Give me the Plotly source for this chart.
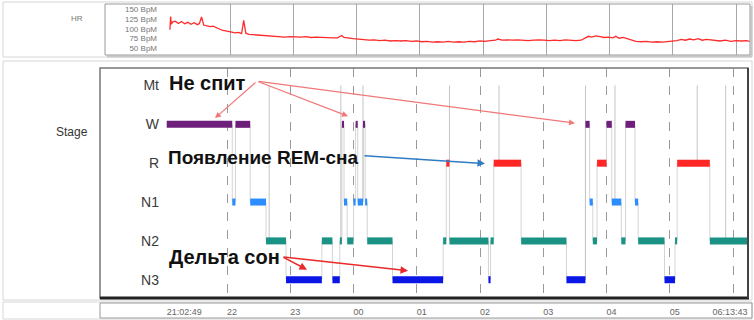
import plotly.graph_objects as go
from datetime import datetime

W_PX, H_PX = 754, 320

# ---------------- data ----------------
stage_labels = ["N3", "N2", "N1", "R", "W", "Mt"]
stage_level = {"N3": 1, "N2": 2, "N1": 3, "R": 4, "W": 5, "Mt": 6}
stage_colors = {"W": "#6e1f7c", "R": "#ff2626", "N1": "#2b8dff",
                "N2": "#1b9384", "N3": "#0a16e6"}

seg_stage = ["W", "N1", "W", "N1", "N2", "N3", "N2", "N3", "N2", "W",
             "N1", "N2", "N1", "W", "N1", "W", "N1", "N2", "N3", "N2",
             "R", "N2", "N3", "N2", "R", "N2", "N3", "W", "N1", "N2",
             "R", "W", "N1", "N2", "W", "N1", "N2", "N3", "N2", "R", "N2"]
seg_start = ["21:02:49", "22:05", "22:08", "22:22", "22:37", "22:56", "23:30", "23:40", "23:47", "23:49",
             "23:51", "23:54", "00:00", "00:02", "00:04", "00:09", "00:11", "00:13", "00:37", "01:25",
             "01:28", "01:31", "02:08", "02:10", "02:13", "02:39", "03:22", "03:40", "03:44", "03:47",
             "03:51", "04:00", "04:05", "04:14", "04:18", "04:27", "04:30", "04:55", "05:05", "05:07", "05:38"]
seg_end = seg_start[1:] + ["06:13:43"]

movement_times = ["22:40", "23:48", "00:09", "01:31", "02:18", "03:40", "04:08", "05:26", "05:53"]

hour_ticks = ["22:00", "23:00", "00:00", "01:00", "02:00", "03:00", "04:00", "05:00", "06:00"]
axis_tick_times = ["21:02:49", "22:00", "23:00", "00:00", "01:00", "02:00", "03:00", "04:00", "05:00"]
axis_tick_text = ["21:02:49", "22", "23", "00", "01", "02", "03", "04", "05"]
end_tick_time = ["06:13:43"]
end_tick_text = ["06:13:43"]

hr_time = ["21:03", "21:03:40", "21:04:20", "21:05:40", "21:08", "21:11", "21:14", "21:17", "21:20",
           "21:23", "21:26", "21:29", "21:31", "21:33", "21:35", "21:38", "21:41", "21:44", "21:47",
           "21:50", "21:53", "21:56", "21:59", "22:02", "22:05", "22:08", "22:11", "22:13", "22:15",
           "22:18", "22:22", "22:26", "22:30", "22:34", "22:38", "22:42", "22:47", "22:52", "22:57",
           "23:02", "23:07", "23:12", "23:17", "23:22", "23:27", "23:32", "23:37", "23:42", "23:46",
           "23:48", "23:52", "23:57", "00:02", "00:07", "00:12", "00:17", "00:22", "00:27", "00:32",
           "00:37", "00:42", "00:47", "00:52", "00:57", "01:02", "01:07", "01:12", "01:17", "01:22",
           "01:27", "01:32", "01:37", "01:42", "01:47", "01:52", "01:57", "02:02", "02:07", "02:12",
           "02:14", "02:18", "02:23", "02:28", "02:33", "02:38", "02:43", "02:48", "02:53", "02:58",
           "03:03", "03:08", "03:13", "03:18", "03:23", "03:28", "03:33", "03:37", "03:40", "03:43",
           "03:47", "03:51", "03:55", "03:59", "04:03", "04:06", "04:09", "04:13", "04:17", "04:21",
           "04:25", "04:30", "04:35", "04:40", "04:45", "04:50", "04:55", "05:00", "05:04", "05:08",
           "05:12", "05:16", "05:20", "05:24", "05:28", "05:32", "05:36", "05:40", "05:45", "05:50",
           "05:55", "06:00", "06:05", "06:10", "06:13"]
hr_bpm = [98, 132, 112, 118, 120, 114, 119, 113, 117,
          112, 116, 111, 114, 131, 110, 108, 106, 107, 103,
          98, 96, 95, 93, 92, 90, 91, 88, 122, 89,
          86, 85, 84, 83, 82, 81, 80, 80, 79, 80,
          79, 79, 80, 78, 79, 78, 78, 77, 77, 83,
          78, 76, 75, 74, 73, 71, 72, 70, 71, 69,
          70, 69, 70, 68, 69, 67, 68, 66, 67, 66,
          68, 66, 67, 66, 68, 67, 69, 68, 70, 71,
          74, 71, 72, 71, 72, 71, 70, 71, 72, 71,
          70, 71, 70, 72, 71, 70, 71, 78, 81, 79,
          82, 80, 78, 79, 77, 81, 76, 78, 75, 71,
          68, 67, 68, 66, 67, 66, 67, 68, 70, 73,
          71, 74, 72, 75, 71, 73, 72, 70, 69, 71,
          68, 70, 69, 70, 68]
hr_tickvals = [50, 75, 100, 125, 150]
hr_ticktext = ["50 BpM", "75 BpM", "100 BpM", "125 BpM", "150 BpM"]


def T(s):
    p = [int(v) for v in s.split(":")]
    while len(p) < 3:
        p.append(0)
    day = 1 if p[0] >= 12 else 2
    return datetime(2024, 1, day, p[0], p[1], p[2])


def PX(x):
    return x / W_PX


def PY(y):
    return 1 - y / H_PX


def stage_at(t):
    for s, a, b in zip(seg_stage, seg_start, seg_end):
        if T(a) <= t <= T(b):
            return stage_level[s]
    return stage_level["W"]


fig = go.Figure()

# hypnogram transition lines (thin grey)
tx, ty = [], []
for i in range(1, len(seg_stage)):
    t = T(seg_start[i])
    tx += [t, t, None]
    ty += [stage_level[seg_stage[i - 1]], stage_level[seg_stage[i]], None]
fig.add_trace(go.Scatter(x=tx, y=ty, mode="lines", line=dict(color="#d4d4d4", width=1),
                         hoverinfo="skip", showlegend=False))

# movement markers (from Mt row down to current stage)
mx, my = [], []
for m in movement_times:
    t = T(m)
    mx += [t, t, None]
    my += [stage_level["Mt"], stage_at(t), None]
fig.add_trace(go.Scatter(x=mx, y=my, mode="lines", line=dict(color="#c4c4c4", width=1),
                         hoverinfo="skip", showlegend=False))

# stage bars
for st in ["W", "R", "N1", "N2", "N3"]:
    xs, ys = [], []
    for s, a, b in zip(seg_stage, seg_start, seg_end):
        if s == st:
            xs += [T(a), T(b), None]
            ys += [stage_level[s], stage_level[s], None]
    fig.add_trace(go.Scatter(x=xs, y=ys, mode="lines", name=st,
                             line=dict(color=stage_colors[st], width=7),
                             showlegend=False))

# HR trace
fig.add_trace(go.Scatter(x=[T(t) for t in hr_time], y=hr_bpm, mode="lines",
                         line=dict(color="#ff2a2a", width=1.3),
                         xaxis="x2", yaxis="y2", showlegend=False))

# dummy traces for the time-label axes
fig.add_trace(go.Scatter(x=[], y=[], xaxis="x3", yaxis="y3", showlegend=False))
fig.add_trace(go.Scatter(x=[], y=[], xaxis="x4", yaxis="y3", showlegend=False))

main_range = [T("19:59:32"), T("06:14:12")]
hr_range = [T("20:01:25"), T("06:13:17")]
label_font = dict(family="Liberation Sans, Arial, sans-serif", size=14, color="#3a3a3a")
small_font = dict(family="Liberation Sans, Arial, sans-serif", size=9, color="#666666")

fig.update_layout(
    width=W_PX, height=H_PX,
    margin=dict(l=0, r=0, t=0, b=0),
    paper_bgcolor="white", plot_bgcolor="white",
    showlegend=False,
    xaxis=dict(domain=[PX(100), PX(748)], range=main_range, type="date",
               tickvals=[T(h) for h in hour_ticks], showticklabels=False,
               showgrid=True, gridcolor="#9a9a9a", gridwidth=1, griddash="dash",
               zeroline=False, showline=False, ticks=""),
    yaxis=dict(domain=[PY(298), PY(68)], range=[0.53, 6.45],
               tickvals=[1, 2, 3, 4, 5, 6], ticktext=stage_labels,
               anchor="free", position=PX(159), showgrid=False, zeroline=False,
               showline=False, ticks="", tickfont=label_font),
    xaxis2=dict(domain=[PX(105), PX(750)], range=hr_range, type="date", anchor="y2",
                tickvals=[T(h) for h in hour_ticks], showticklabels=False,
                showgrid=True, gridcolor="#a8a8a8", gridwidth=1,
                zeroline=False, showline=False, ticks=""),
    yaxis2=dict(domain=[PY(55), PY(4)], range=[33, 164],
                tickvals=hr_tickvals, ticktext=hr_ticktext,
                anchor="free", position=PX(157), showgrid=False, zeroline=False,
                showline=False, ticks="",
                tickfont=dict(family="Liberation Sans, Arial, sans-serif", size=8, color="#777777")),
    xaxis3=dict(domain=[PX(100), PX(748)], range=main_range, type="date", anchor="y3",
                side="top",
                tickvals=[T(t) for t in axis_tick_times], ticktext=axis_tick_text,
                ticklabelposition="inside right", showgrid=False, zeroline=False,
                showline=False, ticks="", tickfont=small_font),
    xaxis4=dict(domain=[PX(100), PX(748)], range=main_range, type="date", anchor="y3",
                overlaying="x3", side="top",
                tickvals=[T(t) for t in end_tick_time], ticktext=end_tick_text,
                ticklabelposition="inside left", showgrid=False, zeroline=False,
                showline=False, ticks="", tickfont=small_font),
    yaxis3=dict(domain=[PY(318), PY(303)], range=[0, 1], visible=False),
)

shapes = []
# row frames
for (x0, y0, x1, y1) in [(3, 2, 752, 57), (3, 61, 752, 300), (3, 302, 752, 319)]:
    shapes.append(dict(type="rect", xref="paper", yref="paper", x0=PX(x0), x1=PX(x1),
                       y0=PY(y1), y1=PY(y0), line=dict(color="#d6d6d6", width=1)))
# HR box with shadow
shapes.append(dict(type="line", xref="paper", yref="paper", x0=PX(107), x1=PX(752),
                   y0=PY(56.5), y1=PY(56.5), line=dict(color="#c8c8c8", width=2)))
shapes.append(dict(type="line", xref="paper", yref="paper", x0=PX(751.5), x1=PX(751.5),
                   y0=PY(6), y1=PY(56.5), line=dict(color="#c8c8c8", width=2)))
shapes.append(dict(type="rect", xref="paper", yref="paper", x0=PX(105), x1=PX(750),
                   y0=PY(55), y1=PY(4), line=dict(color="#9a9a9a", width=1)))
# main box
shapes.append(dict(type="rect", xref="paper", yref="paper", x0=PX(100), x1=PX(748),
                   y0=PY(298), y1=PY(68), line=dict(color="#777777", width=1.5)))
shapes.append(dict(type="line", xref="paper", yref="paper", x0=PX(100), x1=PX(749),
                   y0=PY(298), y1=PY(298), line=dict(color="#222222", width=3)))
shapes.append(dict(type="line", xref="paper", yref="paper", x0=PX(748), x1=PX(748),
                   y0=PY(298), y1=PY(68), line=dict(color="#444444", width=2)))
# time axis box
shapes.append(dict(type="rect", xref="paper", yref="paper", x0=PX(100), x1=PX(752),
                   y0=PY(318), y1=PY(303), line=dict(color="#9a9a9a", width=1)))
fig.update_layout(shapes=shapes)

txt_font = dict(family="Liberation Sans, Arial, sans-serif", size=20, color="#111111")
ann = [
    dict(text="HR", x=PX(77), y=PY(18), xref="paper", yref="paper", showarrow=False,
         xanchor="center", yanchor="middle",
         font=dict(family="Liberation Sans, Arial, sans-serif", size=8, color="#777777")),
    dict(text="Stage", x=PX(72), y=PY(132), xref="paper", yref="paper", showarrow=False,
         xanchor="center", yanchor="middle",
         font=dict(family="Liberation Sans, Arial, sans-serif", size=12, color="#333333")),
    dict(text="<b>Не спит</b>", x=PX(207), y=PY(83), xref="paper", yref="paper",
         xanchor="center", yanchor="middle", showarrow=False, font=txt_font),
    dict(text="<b>Появление REM-сна</b>", x=PX(263), y=PY(157), xref="paper", yref="paper",
         xanchor="center", yanchor="middle", showarrow=False,
         font=dict(family="Liberation Sans, Arial, sans-serif", size=19, color="#111111")),
    dict(text="<b>Дельта сон</b>", x=PX(224), y=PY(257), xref="paper", yref="paper",
         xanchor="center", yanchor="middle", showarrow=False, font=txt_font),
]
pink = "#f07878"
for tip_t, tip_y, ax, ay in [("21:48:36", 5.16, 42, -37), ("23:54:47", 5.21, -91, -35),
                             ("03:30:06", 5.03, -318, -42)]:
    ann.append(dict(text="", x=T(tip_t), y=tip_y, xref="x", yref="y", ax=ax, ay=ay,
                    axref="pixel", ayref="pixel", showarrow=True, arrowhead=2,
                    arrowsize=1, arrowwidth=1.2, arrowcolor=pink))
ann.append(dict(text="", x=T("02:04:44"), y=3.99, xref="x", yref="y", ax=-122, ay=-8,
                axref="pixel", ayref="pixel", showarrow=True, arrowhead=2,
                arrowsize=1, arrowwidth=1.5, arrowcolor="#2f7cc4"))
for tip_t, tip_y, ax, ay in [("23:15:53", 1.26, -25, -13), ("00:51:42", 1.23, -126, -14)]:
    ann.append(dict(text="", x=T(tip_t), y=tip_y, xref="x", yref="y", ax=ax, ay=ay,
                    axref="pixel", ayref="pixel", showarrow=True, arrowhead=2,
                    arrowsize=1, arrowwidth=1.5, arrowcolor="#e82a2a"))
fig.update_layout(annotations=ann)

fig.write_html("out.html", config={"displayModeBar": False},
               post_script="document.body.style.margin='0px';")
